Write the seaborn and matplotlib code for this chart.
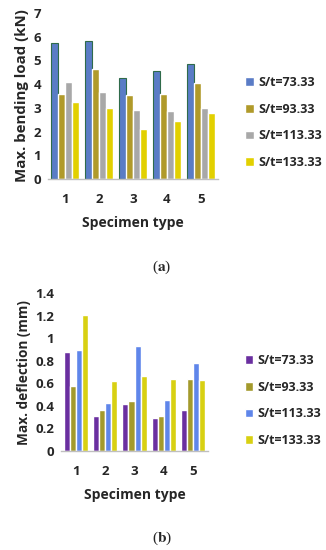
import pandas as pd
import numpy as np
import matplotlib
matplotlib.use("Agg")
import matplotlib.pyplot as plt
import seaborn as sns

specimens = ["1", "2", "3", "4", "5"]
series = ["S/t=73.33", "S/t=93.33", "S/t=113.33", "S/t=133.33"]

# max bending load (kN), one list per S/t
load_73 = [5.75, 5.8, 4.25, 4.55, 4.85]
load_93 = [3.6, 4.65, 3.55, 3.6, 4.05]
load_113 = [4.1, 3.65, 2.9, 2.85, 3.0]
load_133 = [3.25, 3.0, 2.1, 2.45, 2.8]

# max deflection (mm)
defl_73 = [0.88, 0.31, 0.42, 0.29, 0.36]
defl_93 = [0.58, 0.36, 0.44, 0.31, 0.64]
defl_113 = [0.90, 0.43, 0.93, 0.45, 0.78]
defl_133 = [1.21, 0.62, 0.67, 0.64, 0.63]

top_colors = ["#5a7cc6", "#b09a2a", "#a8a8a8", "#e2d000"]
bot_colors = ["#6a2fa0", "#a39a2c", "#5f86ea", "#d8d012"]


def long_df(cols):
    rows = []
    for name, vals in zip(series, cols):
        for s, v in zip(specimens, vals):
            rows.append({"Specimen": s, "Series": name, "Value": v})
    return pd.DataFrame(rows)


sns.set_style("white")
plt.rcParams["font.family"] = ["Open Sans", "DejaVu Sans"]
plt.rcParams["font.weight"] = "bold"
plt.rcParams["mathtext.fontset"] = "stix"

fig = plt.figure(figsize=(3.26, 5.5), dpi=100)


def draw(ax, df, colors, ylim, ticks, ticklabels, ylabel, ylab_fs, tag, tag_y, leg_x, leg_y):
    sns.barplot(data=df, x="Specimen", y="Value", hue="Series", palette=colors,
                ax=ax, gap=0, width=0.82, saturation=1, errorbar=None)
    ax.set_ylim(*ylim)
    ax.set_xlim(-0.5, 4.5)
    ax.set_yticks(ticks)
    ax.set_yticklabels(ticklabels, fontsize=9.5, fontweight="bold")
    for lab in ax.get_xticklabels():
        lab.set_fontsize(9.5)
        lab.set_fontweight("bold")
    ax.tick_params(axis="both", length=0, pad=5)
    ax.tick_params(axis="x", pad=10)
    for s in ["top", "right", "left"]:
        ax.spines[s].set_visible(False)
    ax.spines["bottom"].set_color("#bfbfbf")
    ax.spines["bottom"].set_linewidth(1)
    ax.set_ylabel(ylabel, fontsize=ylab_fs, fontweight="bold", labelpad=3)
    ax.set_xlabel("Specimen type", fontsize=10, fontweight="bold", labelpad=7)
    handles, labels = ax.get_legend_handles_labels()
    ax.legend(handles, labels, loc="center left", bbox_to_anchor=(leg_x, leg_y),
              frameon=False, handlelength=0.7, handleheight=0.7, borderpad=0.2,
              handletextpad=0.3, labelspacing=1.1, prop={"weight": "bold", "size": 9})
    fig.text(162 / 326, tag_y, r"($\mathbf{" + tag + "}$)", ha="center", va="center",
             fontsize=11, family=["Liberation Serif"], fontweight="normal")


ax1 = fig.add_axes([48 / 326, 371 / 550, 170 / 326, 166 / 550])
draw(ax1, long_df([load_73, load_93, load_113, load_133]), top_colors,
     (0, 7), range(8), [str(i) for i in range(8)],
     "Max. bending load (kN)", 10.8, "a", 1 - 267 / 550, 1.11, 0.34)
# dark green outline on first series, as in the original
for bar in ax1.containers[0]:
    bar.set_edgecolor("#2f6b4a")
    bar.set_linewidth(0.8)

ax2 = fig.add_axes([61 / 326, 99 / 550, 147 / 326, 157.7 / 550])
yt = np.arange(0, 1.41, 0.2)
draw(ax2, long_df([defl_73, defl_93, defl_113, defl_133]), bot_colors,
     (0, 1.4), yt, ["0", "0.2", "0.4", "0.6", "0.8", "1", "1.2", "1.4"],
     "Max. deflection (mm)", 9.8, "b", 1 - 538 / 550, 1.19, 0.32)

fig.savefig("out.png", dpi=100)
